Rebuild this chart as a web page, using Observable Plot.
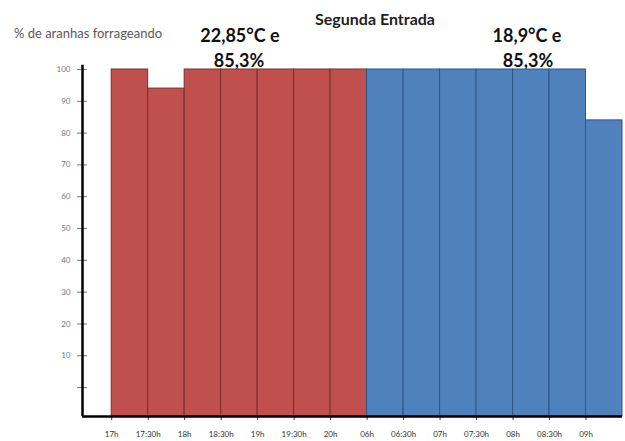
<!DOCTYPE html>
<html>
<head>
<meta charset="utf-8">
<script src="https://cdn.jsdelivr.net/npm/d3@7"></script>
<script src="https://cdn.jsdelivr.net/npm/@observablehq/plot@0.6"></script>
<style>
  html, body { margin: 0; padding: 0; background: #fff; }
  #wrap { position: relative; width: 625px; height: 441px; font-family: Lato, "Open Sans", sans-serif; }
  .t { position: absolute; white-space: nowrap; transform: translate(-50%, -50%); }
  #title { left: 375px; top: 18px; font-weight: bold; font-size: 16px; color: #222; }
  #ylab { left: 88px; top: 33px; font-size: 13px; color: #595959; }
  .ann { font-weight: bold; font-size: 18px; color: #111; }
</style>
</head>
<body>
<div id="wrap">
  <div id="title" class="t">Segunda Entrada</div>
  <div id="ylab" class="t">% de aranhas forrageando</div>
  <div class="t ann" style="left:240px;top:35px">22,85°C e</div>
  <div class="t ann" style="left:239px;top:60px">85,3%</div>
  <div class="t ann" style="left:527px;top:35px">18,9°C e</div>
  <div class="t ann" style="left:528px;top:60px">85,3%</div>
  <div id="chart" style="position:absolute;left:0;top:0"></div>
</div>
<script>
const times = ["17h","17:30h","18h","18:30h","19h","19:30h","20h","06h","06:30h","07h","07:30h","08h","08:30h","09h"];
const values = [100, 94, 100, 100, 100, 100, 100, 100, 100, 100, 100, 100, 100, 84];
const periods = ["tarde","tarde","tarde","tarde","tarde","tarde","tarde","manha","manha","manha","manha","manha","manha","manha"];
const yTicks = [0, 10, 20, 30, 40, 50, 60, 70, 80, 90, 100];

const yMin = -9.1, xMin = -0.8;
const data = times.map((t, i) => ({t, i, v: values[i], p: periods[i]}));

const chart = Plot.plot({
  width: 625,
  height: 441,
  marginTop: 69,
  marginBottom: 25,
  marginLeft: 82,
  marginRight: 3,
  style: {fontFamily: "Lato, 'Open Sans', sans-serif", background: "transparent"},
  x: {domain: [xMin, times.length], axis: null},
  y: {domain: [yMin, 100], axis: null},
  color: {domain: ["tarde", "manha"], range: ["#C0504D", "#4F81BD"]},
  marks: [
    Plot.rectY(data, {
      x1: "i", x2: d => d.i + 1, y1: yMin, y2: "v",
      fill: "p",
      stroke: d => d.p === "tarde" ? "#7a2e2c" : "#2f5586",
      strokeWidth: 1
    }),
    Plot.axisY(yTicks, {
      label: null, tickSize: 5, tickPadding: 7, fontSize: 8, color: "#777",
      tickFormat: d => d === 0 ? "" : String(d)
    }),
    Plot.ruleY(yTicks, {stroke: "#777", insetRight: 535}),
    Plot.axisX(d3.range(times.length), {
      label: null, tickSize: 4, tickPadding: 11, fontSize: 8, color: "#333",
      tickFormat: i => times[i]
    }),
    Plot.ruleY([yMin], {stroke: "#000", strokeWidth: 2.5}),
    Plot.ruleX([xMin], {y1: yMin, y2: 101.3, stroke: "#000", strokeWidth: 2.5})
  ]
});
document.getElementById("chart").appendChild(chart);
</script>
</body>
</html>
